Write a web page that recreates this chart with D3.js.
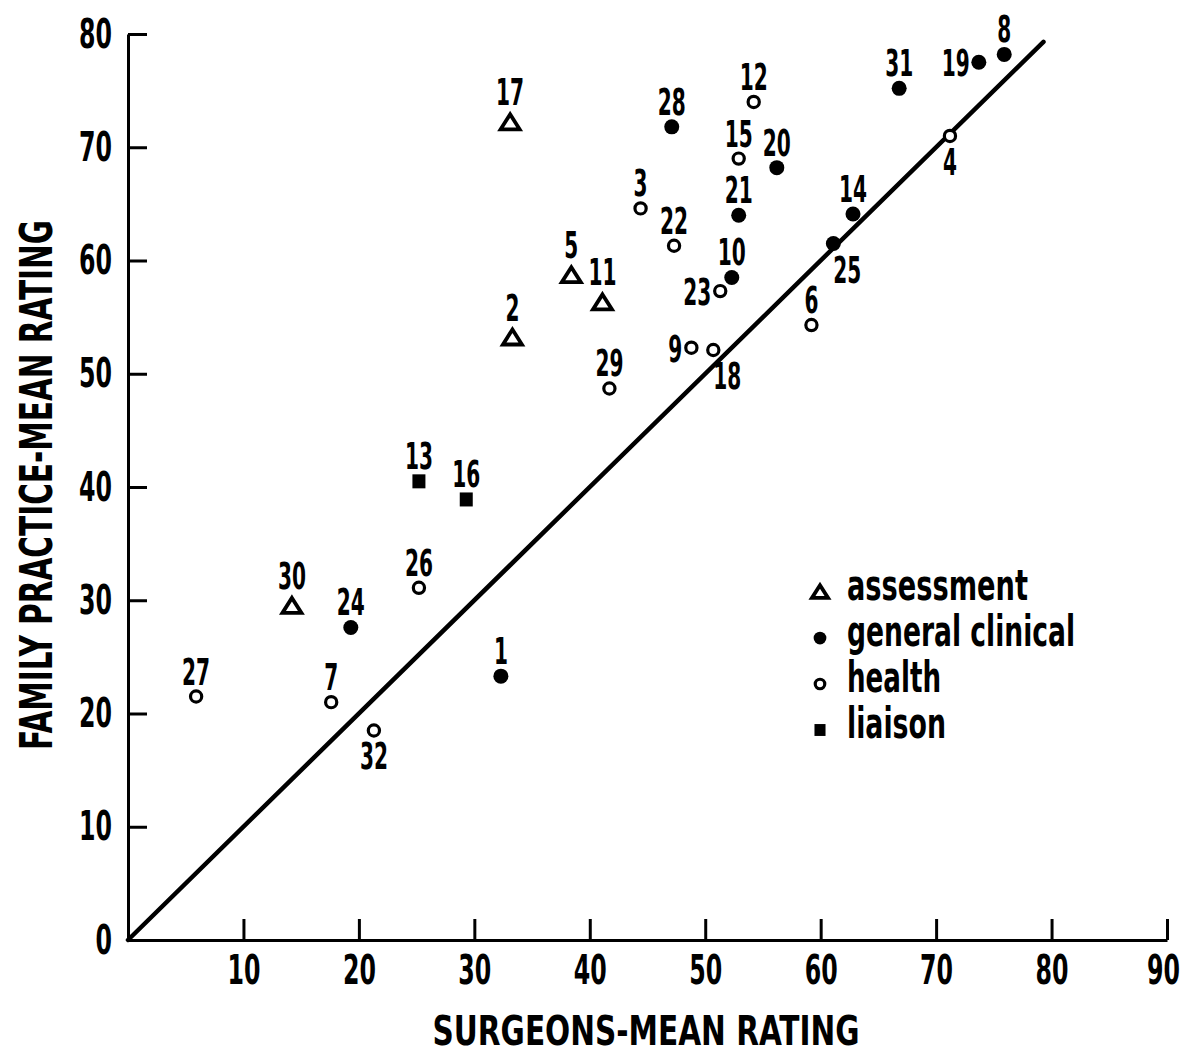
<!DOCTYPE html>
<html>
<head>
<meta charset="utf-8">
<script src="https://cdn.jsdelivr.net/npm/d3@7"></script>
<style>
body { margin: 0; background: #fff; }
svg text { font-family: "Liberation Sans Narrow", "DejaVu Sans Condensed", "Liberation Sans", sans-serif; fill: #000; font-weight: bold; }
</style>
</head>
<body>
<svg id="chart" width="1192" height="1055"></svg>
<script>
// item number, surgeons mean rating (x), family practice mean rating (y), item type
const ids      = [1, 2, 3, 4, 5, 6, 7, 8, 9, 10, 11, 12, 13, 14, 15, 16,
                  17, 18, 19, 20, 21, 22, 23, 24, 25, 26, 27, 28, 29, 30, 31, 32];
const surgeons = [32.3, 33.3, 44.4, 71.2, 38.4, 59.2, 17.6, 75.9, 48.8, 52.3, 41.1, 54.2, 25.2, 62.8, 52.9, 29.3,
                  33.1, 50.7, 73.7, 56.2, 52.9, 47.3, 51.3, 19.3, 61.1, 25.2, 5.9, 47.1, 41.7, 14.2, 66.8, 21.3];
const family   = [23.3, 53.2, 64.6, 71.0, 58.7, 54.3, 21.0, 78.2, 52.3, 58.5, 56.3, 74.0, 40.5, 64.1, 69.0, 38.9,
                  72.2, 52.1, 77.5, 68.2, 64.0, 61.3, 57.3, 27.6, 61.5, 31.1, 21.5, 71.8, 48.7, 29.5, 75.2, 18.5];
const types    = ['general', 'assessment', 'health', 'health', 'assessment', 'health', 'health', 'general',
                  'health', 'general', 'assessment', 'health', 'liaison', 'general', 'health', 'liaison',
                  'assessment', 'health', 'general', 'general', 'general', 'health', 'health', 'general',
                  'general', 'health', 'health', 'general', 'health', 'assessment', 'general', 'health'];

const legend_types  = ['assessment', 'general', 'health', 'liaison'];
const legend_labels = ['assessment', 'general clinical', 'health', 'liaison'];

const x_ticks = [10, 20, 30, 40, 50, 60, 70, 80, 90];
const y_ticks = [0, 10, 20, 30, 40, 50, 60, 70, 80];
const diagonal_ends = [0, 79.3];   // the x = y reference line

// where a point's number sits when it is not right above the mark
const label_side = {4: 'below', 32: 'below', 18: 'belowright', 25: 'belowright', 9: 'left', 19: 'left', 23: 'left'};

const points = ids.map((id, i) => ({id: id, x: surgeons[i], y: family[i], type: types[i]}));

const svg = d3.select('#chart');

const x_scale = d3.scaleLinear().domain([0, 90]).range([128, 1167]);
const y_scale = d3.scaleLinear().domain([0, 80]).range([940, 34]);

// squeeze text to the condensed width of the original typeface
const squeeze = function(sel, per_char){
    sel.attr('textLength', function(){ return this.textContent.length * per_char; })
       .attr('lengthAdjust', 'spacingAndGlyphs');
}

// axes, ticks pointing into the plot
const x_axis = svg.append('g')
    .attr('transform', 'translate(0,' + y_scale(0) + ')')
    .call(d3.axisBottom(x_scale).tickValues(x_ticks).tickSizeInner(-21).tickSizeOuter(0).tickPadding(15));
const y_axis = svg.append('g')
    .attr('transform', 'translate(' + x_scale(0) + ',0)')
    .call(d3.axisLeft(y_scale).tickValues(y_ticks).tickSizeInner(-19).tickSizeOuter(0).tickPadding(16));

[x_axis, y_axis].forEach(function(ax){
    ax.select('.domain').attr('stroke', '#000').attr('stroke-width', 3);
    ax.selectAll('.tick line').attr('stroke', '#000').attr('stroke-width', 3);
    ax.selectAll('.tick text')
        .style('font-size', '41px')
        .attr('font-family', null)
        .call(squeeze, 16.5);
});
x_axis.selectAll('.tick text').filter(d => d === 90).attr('dx', -4);

// axis titles
svg.append('text')
    .attr('x', 646)
    .attr('y', 1045)
    .attr('text-anchor', 'middle')
    .style('font-size', '41px')
    .text('SURGEONS-MEAN RATING')
    .call(squeeze, 427 / 20);

svg.append('text')
    .attr('transform', 'translate(52,485) rotate(-90)')
    .attr('text-anchor', 'middle')
    .style('font-size', '45px')
    .text('FAMILY PRACTICE-MEAN RATING')
    .call(squeeze, 530 / 27);

// x = y line
svg.append('path')
    .attr('d', d3.line().x(d => x_scale(d)).y(d => y_scale(d))(diagonal_ends))
    .attr('stroke', '#000')
    .attr('stroke-width', 4.5)
    .attr('stroke-linecap', 'round')
    .attr('fill', 'none');

// marker shapes by item type
const draw_marker = function(g, type, k){
    if (type === 'assessment') {
        g.append('path')
            .attr('d', `M0,${-8 * k}L${9.5 * k},${7 * k}L${-9.5 * k},${7 * k}Z`)
            .attr('fill', '#fff').attr('stroke', '#000')
            .attr('stroke-width', 3.8).attr('stroke-linejoin', 'miter');
    } else if (type === 'general') {
        g.append('circle').attr('r', 7.5 * k).attr('fill', '#000');
    } else if (type === 'health') {
        g.append('circle').attr('r', 5.6 * k)
            .attr('fill', '#fff').attr('stroke', '#000').attr('stroke-width', 3.2);
    } else {
        g.append('rect')
            .attr('x', -6.5 * k).attr('y', -7 * k)
            .attr('width', 13 * k).attr('height', 14 * k)
            .attr('fill', '#000');
    }
}

const point_grp = svg.append('g').selectAll('g')
    .data(points)
    .enter()
  .append('g')
    .attr('transform', d => 'translate(' + x_scale(d.x) + ',' + y_scale(d.y) + ')');

point_grp.each(function(d){ draw_marker(d3.select(this), d.type, 1); });

point_grp.append('text')
    .style('font-size', '38px')
    .attr('text-anchor', d => label_side[d.id] === 'left' ? 'end' : 'middle')
    .attr('x', function(d){
        const side = label_side[d.id];
        if (side === 'left') return -9;
        if (side === 'belowright') return 14;
        return 0;
    })
    .attr('y', function(d){
        const side = label_side[d.id];
        if (side === 'left') return 14;
        if (side === 'below' || side === 'belowright') return 39;
        return d.type === 'assessment' ? -17 : -12;
    })
    .text(d => d.id)
    .call(squeeze, 14);

// legend
const legend = svg.append('g').attr('transform', 'translate(820,592)');
const legend_rows = legend.selectAll('g')
    .data(legend_types)
    .enter()
  .append('g')
    .attr('transform', (d, i) => 'translate(0,' + i * 46 + ')');

legend_rows.each(function(d){ draw_marker(d3.select(this), d, 0.85); });

const legend_widths = [181, 228, 94, 99];
legend_rows.append('text')
    .attr('x', 27)
    .attr('y', 8)
    .style('font-size', '42px')
    .text((d, i) => legend_labels[i])
    .attr('textLength', (d, i) => legend_widths[i])
    .attr('lengthAdjust', 'spacingAndGlyphs');
</script>
</body>
</html>
